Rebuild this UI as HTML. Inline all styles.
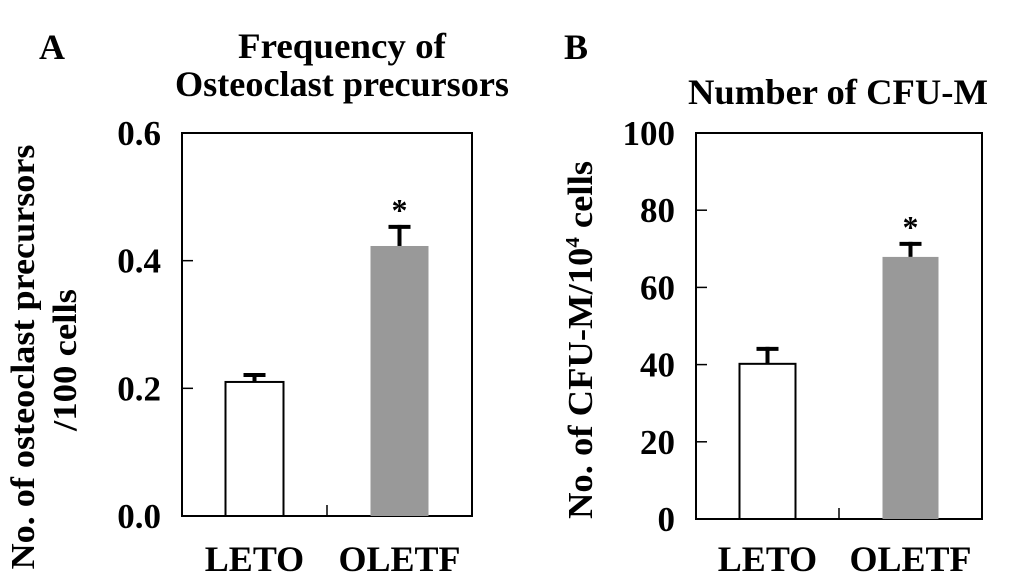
<!DOCTYPE html>
<html><head><meta charset="utf-8"><style>
html,body{margin:0;padding:0;background:#fff}
svg{display:block}
text{font-family:"Liberation Serif",serif;font-weight:bold;fill:#000}
</style></head><body>
<svg id="fig" width="1032" height="582" viewBox="0 0 1032 582">
<text x="39" y="59" font-size="36">A</text>
<text x="564" y="59" font-size="36">B</text>
<text x="342" y="58" font-size="36" text-anchor="middle" textLength="208" lengthAdjust="spacingAndGlyphs">Frequency of</text>
<text x="342" y="96" font-size="36" text-anchor="middle" textLength="334" lengthAdjust="spacingAndGlyphs">Osteoclast precursors</text>
<text x="838" y="104" font-size="36" text-anchor="middle" textLength="300" lengthAdjust="spacingAndGlyphs">Number of CFU-M</text>
<text transform="translate(34,357) rotate(-90)" font-size="34" text-anchor="middle" textLength="425" lengthAdjust="spacingAndGlyphs">No. of osteoclast precursors</text>
<text transform="translate(76,360) rotate(-90)" font-size="34" text-anchor="middle" textLength="142" lengthAdjust="spacingAndGlyphs">/100 cells</text>
<text transform="translate(592,340) rotate(-90)" font-size="35" text-anchor="middle" textLength="358" lengthAdjust="spacingAndGlyphs">No. of CFU-M/10<tspan font-size="20" dy="-13">4</tspan><tspan dy="13"> cells</tspan></text>
<g id="chartA"></g>
<g id="chartB"></g>
</svg>
<script>
const categories = ["LETO", "OLETF"];
const aValues = [0.21, 0.423];
const aErrors = [0.014, 0.033];
const aTicks = [0, 0.2, 0.4, 0.6];
const aTickLabels = ["0.0", "0.2", "0.4", "0.6"];
const bValues = [40.2, 67.9];
const bErrors = [4.4, 3.9];
const bTicks = [0, 20, 40, 60, 80, 100];
const bTickLabels = ["0", "20", "40", "60", "80", "100"];
const NS = "http://www.w3.org/2000/svg";
function mk(tag, attrs, parent){const e=document.createElementNS(NS,tag);for(const k in attrs)e.setAttribute(k,attrs[k]);parent.appendChild(e);return e;}
function draw(g, cfg){
  const {x0,x1,y0,y1,max,values,errors,ticks,labels,barW,stars,prefix}=cfg;
  const y=v=>y1-(v/max)*(y1-y0);
  const bw=(x1-x0)/2;
  const cx=i=>x0+bw*(i+0.5);
  const f=mk('rect',{x:x0,y:y0,width:x1-x0,height:y1-y0,fill:'none',stroke:'#000','stroke-width':2},g);
  
  
  ticks.forEach((t,i)=>{
    const l=mk('line',{x1:x0,x2:x0+11,y1:y(t),y2:y(t),stroke:'#000','stroke-width':1.5},g);
    
    
    const tx=mk('text',{x:x0-21,y:y(t)+12,'font-size':35,'text-anchor':'end'},g);
    tx.textContent=labels[i];
    
    
  });
  const mt=mk('line',{x1:(x0+x1)/2,x2:(x0+x1)/2,y1:y1,y2:y1-11,stroke:'#000','stroke-width':1.5},g);
  
  
  values.forEach((v,i)=>{
    const c=cx(i);
    const et=y(v+errors[i]);
    const el=mk('line',{x1:c,x2:c,y1:y(v),y2:et,stroke:'#000','stroke-width':4},g);
    
    
    const ec=mk('line',{x1:c-11,x2:c+11,y1:et+2,y2:et+2,stroke:'#000','stroke-width':4},g);
    
    
    const r=mk('rect',{x:c-barW/2,y:y(v),width:barW,height:y1-y(v),fill:i?'#999':'#fff',stroke:i?'none':'#000','stroke-width':2},g);
    
    
    const ct=mk('text',{x:c,y:571,'font-size':36,'text-anchor':'middle'},g);
    ct.textContent=categories[i];
    
    
    if(stars[i]){
      const s=mk('text',{x:c,y:et-4,'font-size':32,'text-anchor':'middle'},g);
      s.textContent='*';
      
      
    }
  });
}
draw(document.getElementById('chartA'),{x0:182,x1:472,y0:133,y1:516,max:0.6,values:aValues,errors:aErrors,ticks:aTicks,labels:aTickLabels,barW:58,stars:[false,true],prefix:'panel-a'});
draw(document.getElementById('chartB'),{x0:696,x1:982,y0:133,y1:519,max:100,values:bValues,errors:bErrors,ticks:bTicks,labels:bTickLabels,barW:56,stars:[false,true],prefix:'panel-b'});
</script>
</body></html>
